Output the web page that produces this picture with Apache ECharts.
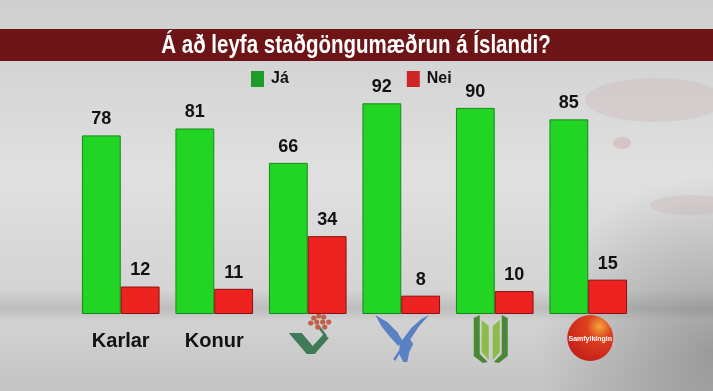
<!DOCTYPE html>
<html><head><meta charset="utf-8">
<script src="https://cdn.jsdelivr.net/npm/echarts@6/dist/echarts.min.js"></script>
<style>html,body{margin:0;padding:0;}#c{width:713px;height:391px;}</style>
</head><body><div id="c"></div>
<script>
var title = 'Á að leyfa staðgöngumæðrun á Íslandi?';
var categories = ['Karlar', 'Konur', 'VG', 'Sjálfstæðisflokkur', 'Framsókn', 'Samfylkingin'];
var seriesNames = ['Já', 'Nei'];
var jaValues = [78, 81, 66, 92, 90, 85];
var neiValues = [12, 11, 34, 8, 10, 15];

var chart = echarts.init(document.getElementById('c'), null, {renderer: 'canvas'});
var wide = '"Liberation Sans", Arial, sans-serif';

var bgGraphics = [
  {type:'rect', shape:{x:0,y:0,width:713,height:391}, z:-10, silent:true,
   style:{fill:new echarts.graphic.LinearGradient(0,0,0,1,[
     {offset:0,color:'#cfcfcf'},{offset:0.2,color:'#d6d6d6'},{offset:0.45,color:'#e0e0e0'},{offset:0.74,color:'#d4d4d4'},{offset:0.79,color:'#bdbdbd'},{offset:0.82,color:'#d2d2d2'},{offset:1,color:'#c4c4c4'}])}},
  {type:'rect', shape:{x:0,y:0,width:713,height:391}, z:-9, silent:true,
   style:{fill:new echarts.graphic.RadialGradient(1,0.9,0.45,[
     {offset:0,color:'rgba(80,80,80,0.4)'},{offset:1,color:'rgba(80,80,80,0)'}])}},
  {type:'ellipse', shape:{cx:655,cy:100,rx:70,ry:22}, z:-8, silent:true, style:{fill:'rgba(185,120,120,0.13)'}},
  {type:'ellipse', shape:{cx:622,cy:143,rx:9,ry:6}, z:-8, silent:true, style:{fill:'rgba(195,110,110,0.22)'}},
  {type:'ellipse', shape:{cx:690,cy:205,rx:40,ry:10}, z:-8, silent:true, style:{fill:'rgba(185,120,120,0.12)'}},
  {type:'rect', shape:{x:0,y:29,width:713,height:32}, z:5, silent:true, style:{fill:'#6d1417'}},
  {type:'text', x:356, y:46, z:6, silent:true, scaleX:0.82,
   style:{text:title, fill:'#ffffff', font:'bold 25px ' + wide, align:'center', verticalAlign:'middle'}}
];

var option = {
  animation: false,
  backgroundColor: '#d6d6d6',
  graphic: bgGraphics,
  legend: {
    top: 71, left: 251, padding: 0, itemGap: 118, itemWidth: 13, itemHeight: 16,
    textStyle: {fontFamily: wide, fontWeight: 'bold', fontSize: 16, color: '#111', padding:[0,0,0,2]},
    data: [
      {name: seriesNames[0], icon: 'rect', itemStyle: {color: '#1e9c2a', borderWidth: 0}},
      {name: seriesNames[1], icon: 'rect', itemStyle: {color: '#cf2424', borderWidth: 0}}
    ]
  },
  grid: {left: 74, right: 78, top: 85, bottom: 77},
  xAxis: {
    type: 'category', data: categories,
    axisLine: {show: false}, axisTick: {show: false},
    axisLabel: {
      margin: 17, fontFamily: wide, fontWeight: 'bold', fontSize: 20, color: '#111',
      formatter: function (v, i) { return i < 2 ? v : ''; }
    }
  },
  yAxis: {type: 'value', min: 0, max: 100, show: false, splitLine: {show: false}},
  series: [
    {name: seriesNames[0], type: 'bar', data: jaValues, barGap: '0%', barCategoryGap: '17%',
     itemStyle: {color: '#22d524', borderColor: '#138a18', borderWidth: 1},
     label: {show: true, position: 'top', distance: 7, fontFamily: wide, fontWeight: 'bold', fontSize: 18, color: '#111'}},
    {name: seriesNames[1], type: 'bar', data: neiValues,
     itemStyle: {color: '#ef2222', borderColor: '#8a1010', borderWidth: 1},
     label: {show: true, position: 'top', distance: 7, fontFamily: wide, fontWeight: 'bold', fontSize: 18, color: '#111'}}
  ]
};
chart.setOption(option);

// party logos (drawn shapes) placed relative to category centres
function cx(i) { return chart.convertToPixel({xAxisIndex: 0}, categories[i]); }
var logos = [];
// VG
(function(){
  var x = cx(2);
  var g = '#3e7b56';
  logos.push({type:'polygon', silent:true, shape:{points:[[x-19,333],[x-6,333],[x+5,346],[x+16,334],[x+21,338],[x+7,354],[x-1,354]]}, style:{fill:g}});
  logos.push({type:'polyline', silent:true, shape:{points:[[x+18,336],[x+12,328],[x+10,326]]}, style:{stroke:g, lineWidth:2.5, fill:null}});
  var dots=[[6,-20],[11,-22],[16,-21],[3,-15],[9,-16],[15,-16],[21,-16],[10,-11],[17,-11]];
  dots.forEach(function(d){logos.push({type:'circle', silent:true, shape:{cx:x+d[0],cy:338+d[1],r:2.6}, style:{fill:'#c25f48'}});});
})();
// Falcon
(function(){
  var x = cx(3);
  var c = '#5a81c4';
  logos.push({type:'polygon', silent:true, shape:{points:[[x-26,315],[x-14,322],[x-4,332],[x+2,342],[x-3,346],[x-12,336],[x-20,326]]}, style:{fill:c}});
  logos.push({type:'polygon', silent:true, shape:{points:[[x+28,315],[x+18,326],[x+10,338],[x+6,344],[x+1,340],[x+10,328],[x+20,319]]}, style:{fill:c}});
  logos.push({type:'polygon', silent:true, shape:{points:[[x-1,341],[x+8,338],[x+12,344],[x+8,352],[x+6,362],[x+2,362],[x-2,354],[x-6,361],[x-8,359],[x-2,350]]}, style:{fill:c}});
})();
// Framsókn
(function(){
  var x = cx(4) - 4;
  var d = '#4a8838', l = '#8dbb48';
  logos.push({type:'polygon', silent:true, shape:{points:[[x-17,318],[x-11,315],[x-11,354],[x-3,362],[x-8,363],[x-17,356]]}, style:{fill:d}});
  logos.push({type:'polygon', silent:true, shape:{points:[[x+17,318],[x+11,315],[x+11,354],[x+3,362],[x+8,363],[x+17,356]]}, style:{fill:d}});
  logos.push({type:'polygon', silent:true, shape:{points:[[x-9,320],[x-2,326],[x-2,360],[x-9,352]]}, style:{fill:l}});
  logos.push({type:'polygon', silent:true, shape:{points:[[x+9,320],[x+2,326],[x+2,360],[x+9,352]]}, style:{fill:l}});
})();
// Samfylkingin
(function(){
  var x = cx(5) + 2;
  logos.push({type:'circle', silent:true, shape:{cx:x,cy:338,r:23},
    style:{fill:new echarts.graphic.RadialGradient(0.7,0.25,0.9,[{offset:0,color:'#f2a83c'},{offset:0.3,color:'#e0421f'},{offset:1,color:'#c01818'}])}});
  logos.push({type:'text', silent:true, x:x, y:339, style:{text:'Samfylkingin', fill:'#ffffff', font:'bold 7px ' + wide, align:'center', verticalAlign:'middle'}});
})();
chart.setOption({graphic: bgGraphics.concat(logos)});
</script>
</body></html>
